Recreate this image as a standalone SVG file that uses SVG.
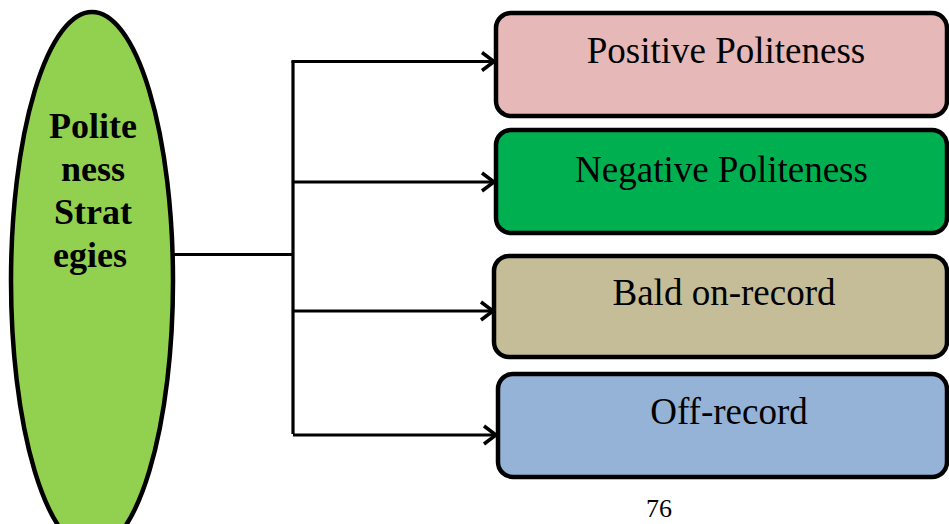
<svg xmlns="http://www.w3.org/2000/svg" width="949" height="524" viewBox="0 0 949 524">
<style>
.box{stroke:#000;stroke-width:4.5}
.lbl{font-family:"Liberation Serif","Times New Roman",serif;font-size:37px;fill:#000;text-anchor:middle}
.main{font-family:"Liberation Serif","Times New Roman",serif;font-size:36px;font-weight:bold;fill:#000;text-anchor:middle}
.conn{fill:none;stroke:#000;stroke-width:3.2}
</style>
<defs>
<marker id="arr" markerUnits="userSpaceOnUse" markerWidth="20" markerHeight="24" refX="14" refY="12" orient="auto" viewBox="0 0 20 24">
<path d="M2,3 L14,12 L2,21" fill="none" stroke="#000" stroke-width="3.5"/>
</marker>
</defs>
<rect width="949" height="524" fill="#fff"/>
<g id="connectors">
<path class="conn" d="M174,254.5 H293"/>
<path class="conn" d="M293,61 V434"/>
<path class="conn" d="M291.5,61.5 H494" marker-end="url(#arr)"/>
<path class="conn" d="M293,182 H494" marker-end="url(#arr)"/>
<path class="conn" d="M293,311 H493" marker-end="url(#arr)"/>
<path class="conn" d="M293,435 H496" marker-end="url(#arr)"/>
</g>
<g id="root">
<ellipse cx="92" cy="281" rx="81" ry="269" fill="#92D050" stroke="#000" stroke-width="4.5"/>
<text class="main" x="93" y="138">Polite</text>
<text class="main" x="93" y="181">ness</text>
<text class="main" x="93" y="224">Strat</text>
<text class="main" x="90" y="267">egies</text>
</g>
<g id="positive">
<rect class="box" x="496" y="13" width="451" height="103" rx="15" fill="#E6B8B7"/>
<text class="lbl" x="726" y="63">Positive Politeness</text>
</g>
<g id="negative">
<rect class="box" x="496" y="130" width="451" height="103" rx="15" fill="#00B050"/>
<text class="lbl" x="721.5" y="182">Negative Politeness</text>
</g>
<g id="bald">
<rect class="box" x="494" y="256" width="453" height="101" rx="15" fill="#C4BD97"/>
<text class="lbl" x="724" y="305">Bald on-record</text>
</g>
<g id="off">
<rect class="box" x="498" y="374" width="449" height="103" rx="15" fill="#95B3D7"/>
<text class="lbl" x="729" y="424">Off-record</text>
</g>
<text x="659" y="517" font-family="Liberation Serif, Times New Roman, serif" font-size="26" text-anchor="middle">76</text>
</svg>
